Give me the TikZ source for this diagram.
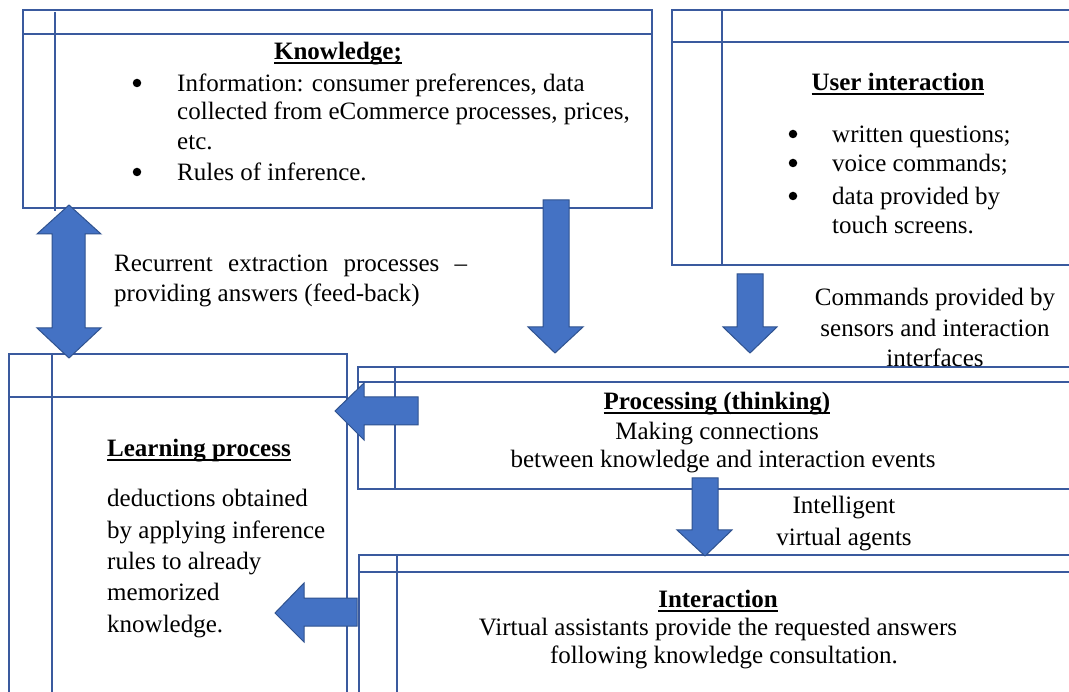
\documentclass[tikz,border=0pt]{standalone}
\usepackage{fontspec}
\setmainfont{Liberation Serif}
\definecolor{boxline}{HTML}{3A5A9E}
\definecolor{arrfill}{HTML}{4472C4}
\definecolor{arrline}{HTML}{2F528F}
\newcommand{\myul}[1]{\setbox0\hbox{#1}\rlap{\rule[-4.5pt]{\wd0}{2pt}}\box0}
\begin{document}
\begin{tikzpicture}[x=1pt,y=-1pt,
  frame/.style={draw=boxline,line width=2.4pt},
  innerline/.style={draw=boxline,line width=2pt},
  blockarrow/.style={fill=arrfill,draw=arrline,line width=1pt,line join=miter},
  txt/.style={inner sep=0pt,font=\fontsize{25}{29}\selectfont},
  lt/.style={txt,anchor=base west},
  ct/.style={txt,anchor=base},
  bul/.style={circle,fill=black,inner sep=0pt,minimum size=8.5pt}]
\path[use as bounding box, clip] (0,0) rectangle (1069,692);
\fill[white] (0,0) rectangle (1069,692);

% ---- Knowledge box
\draw[frame] (23,10) rectangle (652,208);
\draw[innerline] (23,34) -- (652,34);
\draw[innerline] (55,12) -- (55,211);
\node[ct] (ktitle) at (338,60) {\myul{\textbf{Knowledge;}}};
\node[bul] (kb1) at (137,83) {};
\node[lt] (k1) at (177,92) {Information: consumer preferences, data};
\node[lt] (k2) at (177,120) {collected from eCommerce processes, prices,};
\node[lt] (k3) at (177,150) {etc.};
\node[bul] (kb2) at (137,172) {};
\node[lt] (k4) at (177,181) {Rules of inference.};

% ---- User interaction box
\draw[frame] (672,10) rectangle (1080,265);
\draw[innerline] (672,42) -- (1080,42);
\draw[innerline] (722,10) -- (722,265);
\node[ct] (utitle) at (898,91) {\myul{\textbf{User interaction}}};
\node[bul] (ub1) at (793,134) {};
\node[lt] (u1) at (832,143) {written questions;};
\node[bul] (ub2) at (793,163) {};
\node[lt] (u2) at (832,172) {voice commands;};
\node[bul] (ub3) at (793,196) {};
\node[lt] (u3) at (832,205) {data provided by};
\node[lt] (u4) at (832,234) {touch screens.};

% ---- Learning process box
\draw[frame] (9,354) rectangle (347,710);
\draw[innerline] (9,397) -- (347,397);
\draw[innerline] (52,354) -- (52,710);
\node[lt] (ltitle) at (107,457) {\myul{\textbf{Learning process}}};
\node[lt] (l1) at (107,507) {deductions obtained};
\node[lt] (l2) at (107,538) {by applying inference};
\node[lt] (l3) at (107,569) {rules to already};
\node[lt] (l4) at (107,600) {memorized};
\node[lt] (l5) at (107,632) {knowledge.};

% ---- Processing box
\draw[frame] (358,367) rectangle (1080,489);
\draw[innerline] (358,382) -- (1080,382);
\draw[innerline] (395,367) -- (395,489);
\node[ct] (ptitle) at (717,410) {\myul{\textbf{Processing (thinking)}}};
\node[ct] (p1) at (717,440) {Making connections};
\node[ct] (p2) at (723,468) {between knowledge and interaction events};

% ---- Interaction box
\draw[frame] (359,555) rectangle (1080,710);
\draw[innerline] (359,572) -- (1080,572);
\draw[innerline] (397,555) -- (397,710);
\node[ct] (ititle) at (718,607) {\myul{\textbf{Interaction}}};
\node[ct] (i1) at (718,635) {Virtual assistants provide the requested answers};
\node[ct] (i2) at (724,663) {following knowledge consultation.};

% ---- Labels
\node[lt] (r1) at (114,272) {\makebox[353pt][s]{Recurrent extraction processes –}};
\node[lt] (r2) at (114,302) {providing answers (feed-back)};
\node[ct] (c1) at (935,306) {Commands provided by};
\node[ct] (c2) at (935,337) {sensors and interaction};
\node[ct] (c3) at (935,367) {interfaces};
\node[ct] (a1) at (844,514) {Intelligent};
\node[ct] (a2) at (844,546) {virtual agents};

% ---- Block arrows
\draw[blockarrow] (69,205) -- (101,234) -- (85,234) -- (85,328) -- (101,328) -- (69,358)
  -- (37,328) -- (52,328) -- (52,234) -- (37,234) -- cycle;
\draw[blockarrow] (543,200) -- (569,200) -- (569,327) -- (583,327) -- (555,353) -- (528,327) -- (543,327) -- cycle;
\draw[blockarrow] (737,274) -- (763,274) -- (763,327) -- (777,327) -- (750,353) -- (723,327) -- (737,327) -- cycle;
\draw[blockarrow] (418,397) -- (418,425) -- (364,425) -- (364,440) -- (335,411) -- (364,383) -- (364,397) -- cycle;
\draw[blockarrow] (357,598) -- (357,626) -- (304,626) -- (304,642) -- (275,613) -- (304,583) -- (304,598) -- cycle;
\draw[blockarrow] (692,478) -- (718,478) -- (718,530) -- (732,530) -- (705,556) -- (677,530) -- (692,530) -- cycle;
\end{tikzpicture}
\end{document}
